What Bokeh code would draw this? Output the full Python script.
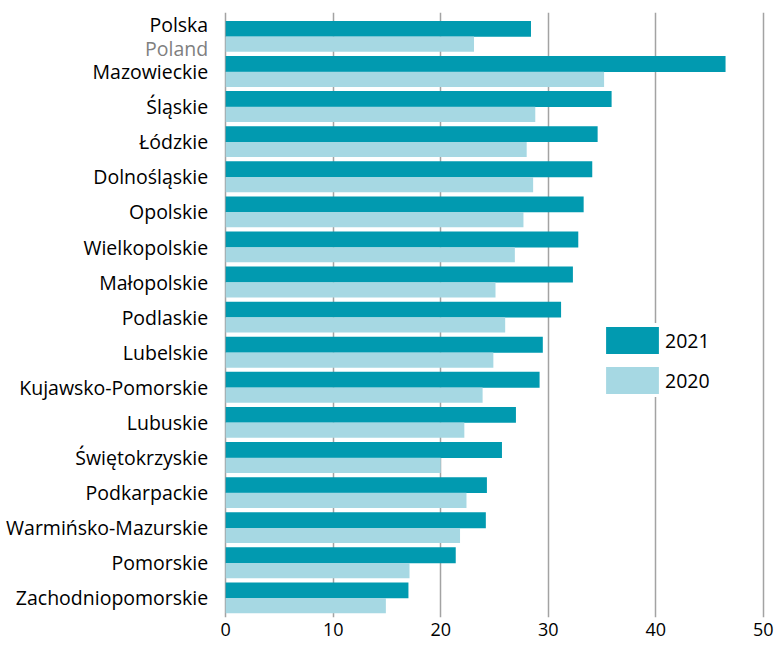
from bokeh.plotting import figure
from bokeh.models import Range1d, FixedTicker, Legend, LegendItem, ColumnDataSource
from bokeh.core.properties import value
from bokeh.embed import file_html
from bokeh.resources import INLINE

# ---- data ----
categories = ["Polska", "Mazowieckie", "Śląskie", "Łódzkie", "Dolnośląskie", "Opolskie",
              "Wielkopolskie", "Małopolskie", "Podlaskie", "Lubelskie", "Kujawsko-Pomorskie",
              "Lubuskie", "Świętokrzyskie", "Podkarpackie", "Warmińsko-Mazurskie",
              "Pomorskie", "Zachodniopomorskie"]
values_2021 = [28.4, 46.5, 35.9, 34.6, 34.1, 33.3, 32.8, 32.3, 31.2, 29.5, 29.2,
               27.0, 25.7, 24.3, 24.2, 21.4, 17.0]
values_2020 = [23.1, 35.2, 28.8, 28.0, 28.6, 27.7, 26.9, 25.1, 26.0, 24.9, 23.9,
               22.2, 20.0, 22.4, 21.8, 17.1, 14.9]
series_names = ["2021", "2020"]
english_name = "Poland"
x_ticks = [0, 10, 20, 30, 40, 50]

COL21 = "#019ab0"
COL20 = "#a6d8e3"
FONT = "Open Sans"
TXT = "#000000"
GRAY_TXT = "#7f7f7f"

n = len(categories)
STEP = 3
centers = [STEP * (n - 1 - i) for i in range(n)]
y21 = [c + 0.65 for c in centers]
y20 = [c - 0.66 for c in centers]

# frame spans the whole width; category labels are drawn inside it, left of x = 0
p = figure(width=776, height=648, output_backend="svg", toolbar_location=None,
           x_range=Range1d(-20.95, 51.24), y_range=Range1d(-1.67, STEP * (n - 1) + 2.05),
           min_border_left=0, min_border_right=0, min_border_top=12, min_border_bottom=31)
p.outline_line_color = None

r21 = p.hbar(y=y21, right=values_2021, left=0, height=1.36, color=COL21, line_color=None)
r20 = p.hbar(y=y20, right=values_2020, left=0, height=1.30, color=COL20, line_color=None)

# category labels
label_y = list(centers)
label_y[0] = centers[0] + 1
lab_src = ColumnDataSource(dict(x=[0] * n, y=label_y, text=categories))
p.text(x="x", y="y", text="text", source=lab_src, x_offset=-17.5,
       text_align="right", text_baseline="middle", text_font=value(FONT),
       text_font_size="19.5px", text_color=TXT)
en_src = ColumnDataSource(dict(x=[0], y=[centers[0] - 1], text=[english_name]))
p.text(x="x", y="y", text="text", source=en_src, x_offset=-17.5,
       text_align="right", text_baseline="middle", text_font=value(FONT),
       text_font_size="19.5px", text_color=GRAY_TXT)

# x axis
p.xaxis.ticker = FixedTicker(ticks=x_ticks)
p.xaxis.axis_line_color = None
p.xaxis.major_tick_line_color = None
p.xaxis.minor_tick_line_color = None
p.xaxis.major_tick_out = 0
p.xaxis.major_label_text_font = FONT
p.xaxis.major_label_text_font_size = "18px"
p.xaxis.major_label_text_color = TXT
p.xaxis.major_label_standoff = 5

p.yaxis.visible = False

# grid (line at 0 acts as the axis line)
p.ygrid.grid_line_color = None
p.xgrid.ticker = FixedTicker(ticks=x_ticks)
p.xgrid.grid_line_color = "#a3a3a3"
p.xgrid.grid_line_width = 1.5

legend = Legend(items=[LegendItem(label=series_names[0], renderers=[r21]),
                       LegendItem(label=series_names[1], renderers=[r20])],
                location=(599, 220), orientation="vertical",
                glyph_width=66, glyph_height=34, spacing=6, label_standoff=0,
                padding=25, margin=0,
                label_text_font=FONT, label_text_font_size="19.5px", label_text_color=TXT,
                background_fill_color="white", background_fill_alpha=1.0,
                border_line_color=None)
p.add_layout(legend)

open("out.html", "w").write(file_html(p, INLINE))
